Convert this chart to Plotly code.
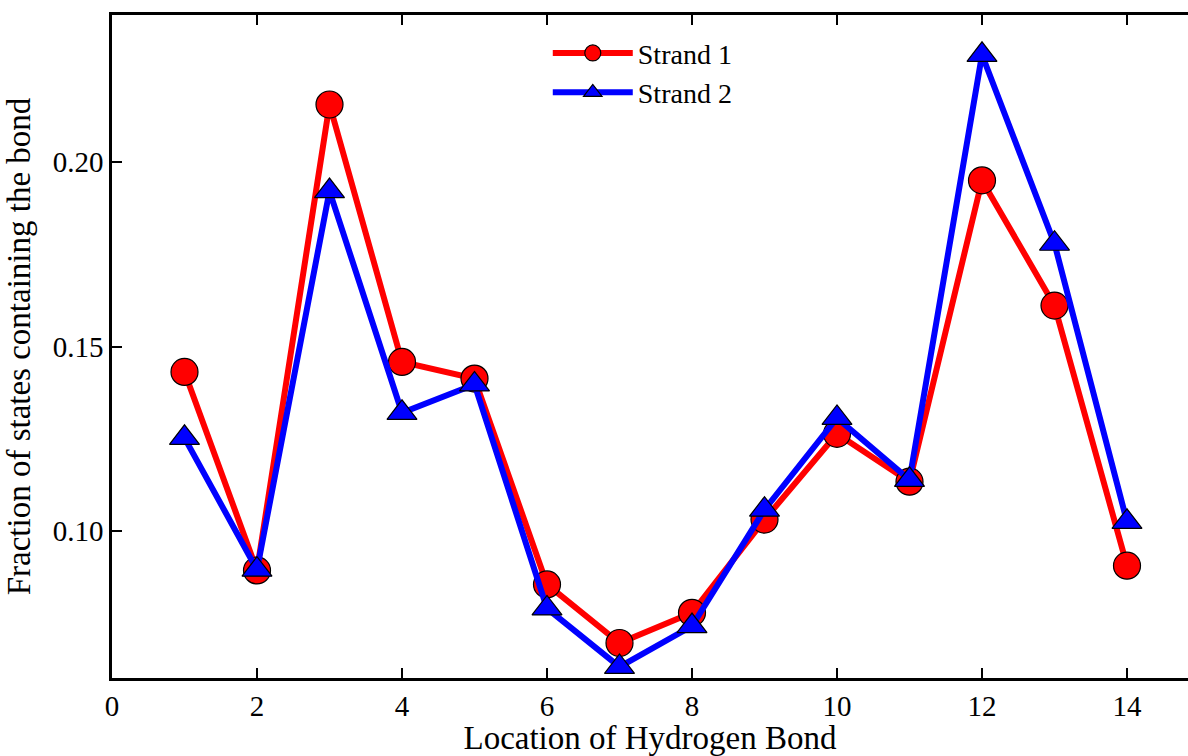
import plotly.graph_objects as go

bond_location = [1, 2, 3, 4, 5, 6, 7, 8, 9, 10, 11, 12, 13, 14]
strand1 = [0.1431, 0.0892, 0.2157, 0.1458, 0.1413, 0.0854, 0.0695, 0.0777,
           0.1030, 0.1263, 0.1133, 0.1951, 0.1611, 0.0905]
strand2 = [0.1252, 0.0894, 0.1922, 0.1320, 0.1397, 0.0789, 0.0630, 0.0741,
           0.1057, 0.1306, 0.1138, 0.2292, 0.1779, 0.1024]
x_ticks = [0, 2, 4, 6, 8, 10, 12, 14]
y_ticks = [0.10, 0.15, 0.20]

FONT = "Liberation Serif"

fig = go.Figure()
fig.add_trace(go.Scatter(
    x=bond_location, y=strand1, name="Strand 1", mode="lines+markers",
    line=dict(color="#ff0000", width=6),
    marker=dict(symbol="circle", size=27, color="#ff0000",
                line=dict(color="black", width=1.2)),
))
fig.add_trace(go.Scatter(
    x=bond_location, y=strand2, name="Strand 2", mode="lines+markers",
    line=dict(color="#0000ff", width=6),
    marker=dict(symbol="triangle-up", size=26, color="#0000ff",
                line=dict(color="black", width=1.2)),
))

fig.update_layout(
    width=1188, height=756,
    margin=dict(l=112, r=0, t=15, b=78),
    paper_bgcolor="white", plot_bgcolor="white",
    font=dict(family=FONT, size=29, color="black"),
    showlegend=True,
    legend=dict(x=0.405, y=0.98, xanchor="left", yanchor="top",
                bgcolor="rgba(0,0,0,0)", borderwidth=0,
                font=dict(family=FONT, size=28), itemwidth=80,
                tracegroupgap=0),
    xaxis=dict(
        range=[0, 1076 / 72.5], tickvals=x_ticks,
        ticktext=[str(v) for v in x_ticks],
        showgrid=False, zeroline=False,
        showline=True, linecolor="black", linewidth=2.5, mirror="ticks",
        ticks="inside", ticklen=10, tickwidth=2, tickcolor="black",
        tickfont=dict(family=FONT, size=29),
        title=dict(text="Location of Hydrogen Bond",
                   font=dict(family=FONT, size=33), standoff=7),
    ),
    yaxis=dict(
        range=[0.06, 0.24], tickvals=y_ticks,
        ticktext=["%.2f" % v for v in y_ticks],
        showgrid=False, zeroline=False,
        showline=True, linecolor="black", linewidth=2.5, mirror=False,
        ticks="inside", ticklen=10, tickwidth=2, tickcolor="black",
        tickfont=dict(family=FONT, size=29),
        title=dict(text="Fraction of states containing the bond",
                   font=dict(family=FONT, size=33), standoff=13),
    ),
)

fig.write_html("out.html")
